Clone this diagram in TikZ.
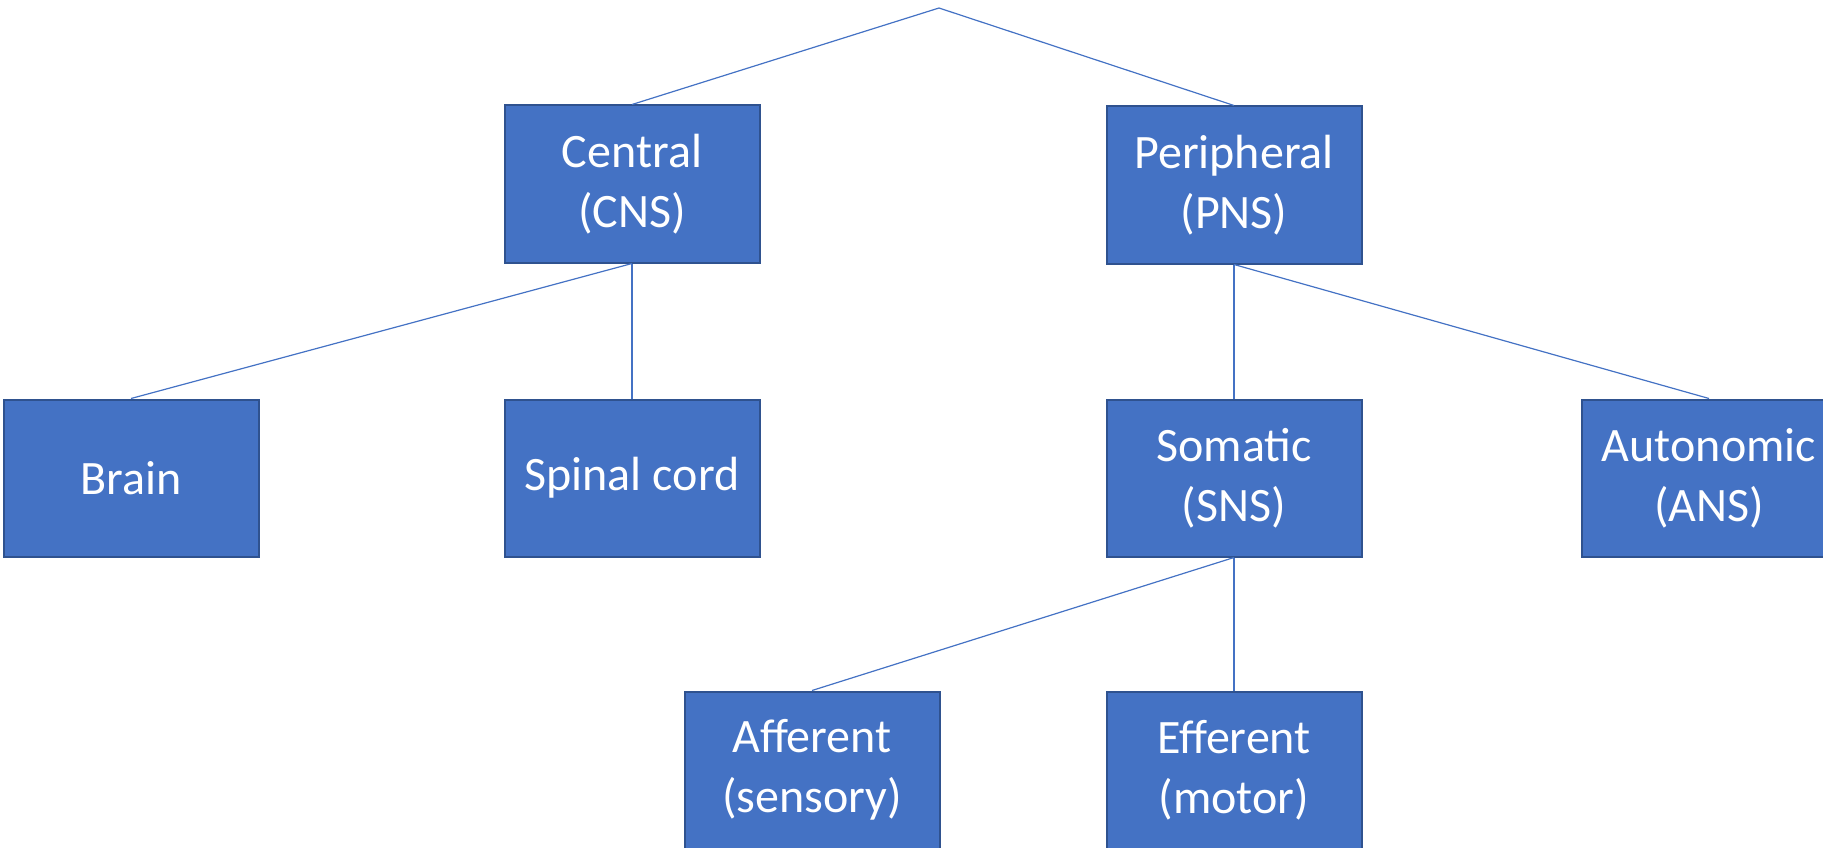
\documentclass[tikz,border=0pt]{standalone}
\usepackage{fontspec}
\setmainfont{Carlito}
\definecolor{boxfill}{HTML}{4472C4}
\definecolor{boxedge}{HTML}{2F528F}
\definecolor{linkc}{HTML}{4472C4}
\begin{document}
\begin{tikzpicture}[x=1pt,y=-1pt,
  box/.style={rectangle, fill=boxfill, draw=boxedge, line width=2pt,
    minimum width=255pt, minimum height=157pt, inner sep=0pt,
    text=white, font=\fontsize{48}{60}\selectfont, align=center},
  link/.style={draw=linkc, line width=1.2pt}]
\useasboundingbox (0,0) rectangle (1823,848);
\coordinate (top) at (939,8);
\node[box] (cns) at (632,184) {Central\\(CNS)};
\node[box] (pns) at (1234,185) {Peripheral\\(PNS)};
\node[box] (brain) at (131,478) {Brain};
\node[box] (spinal) at (632,478) {Spinal cord};
\node[box] (sns) at (1234,478) {Somatic\\(SNS)};
\node[box] (ans) at (1709,478) {Autonomic\\(ANS)};
\node[box] (aff) at (812,770) {Afferent\\(sensory)};
\node[box] (eff) at (1234,770) {Efferent\\(motor)};
\draw[link] (top) -- (cns.north);
\draw[link] (top) -- (pns.north);
\draw[link] (cns.south) -- (brain.north);
\draw[link] (cns.south) -- (spinal.north);
\draw[link] (pns.south) -- (sns.north);
\draw[link] (pns.south) -- (ans.north);
\draw[link] (sns.south) -- (aff.north);
\draw[link] (sns.south) -- (eff.north);
\end{tikzpicture}
\end{document}
